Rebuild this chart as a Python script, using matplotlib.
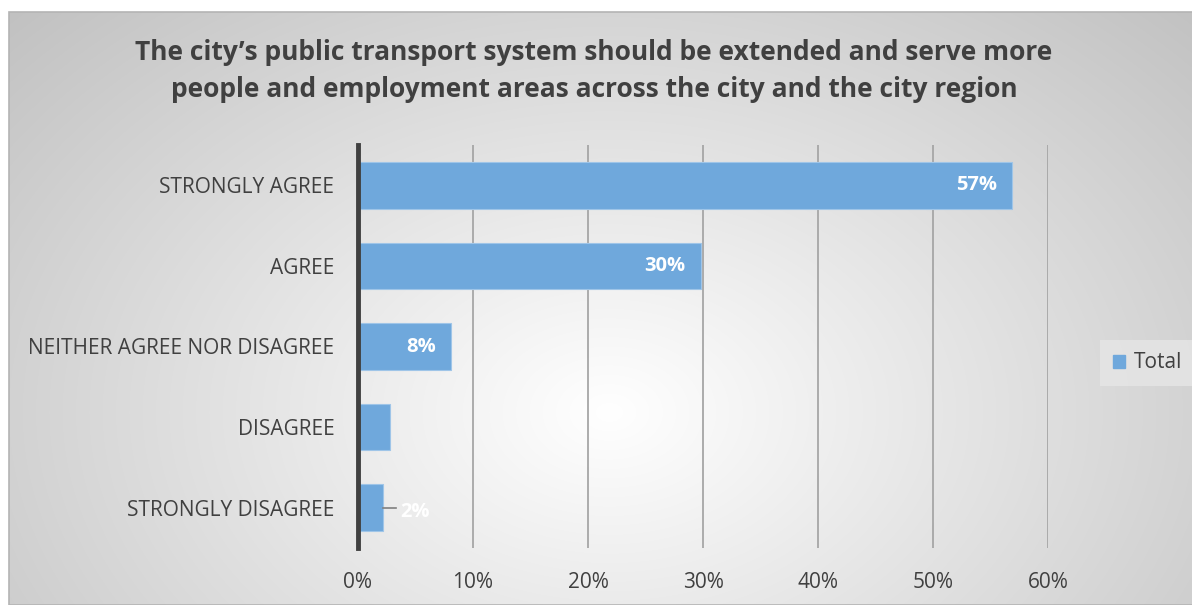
import numpy as np
import matplotlib.pyplot as plt
from matplotlib.patches import Rectangle

categories = ["STRONGLY AGREE", "AGREE", "NEITHER AGREE NOR DISAGREE", "DISAGREE", "STRONGLY DISAGREE"]
values = [56.9, 29.8, 8.1, 2.8, 2.2]
labels = ["57%", "30%", "8%", "", "2%"]
xticks = [0, 10, 20, 30, 40, 50, 60]

title = ("The city\u2019s public transport system should be extended and serve more\n"
         "people and employment areas across the city and the city region")

W, H = 1192, 605
fig = plt.figure(figsize=(W / 100, H / 100), dpi=100)
fig.patch.set_facecolor("white")

# radial gradient background for the chart frame
bg = fig.add_axes([9 / W, 0, 1 - 9 / W, 1 - 12 / H], zorder=0)
yy, xx = np.mgrid[0:593, 0:1183]
cx, cy = 600, 400
r = np.sqrt(((xx - cx) / 680.0) ** 2 + ((yy - cy) / 480.0) ** 2)
shade = 1.0 - 0.24 * np.clip(r, 0, 1.2) / 1.2
img = np.dstack([shade, shade, shade])
bg.imshow(img, aspect="auto", interpolation="bilinear")
bg.set_axis_off()
fig.add_artist(Rectangle((9 / W, 0), 1, 1 - 12 / H, transform=fig.transFigure,
                         fill=False, edgecolor="#b4b4b4", linewidth=1.2, zorder=1))

ax = fig.add_axes([358 / W, 1 - 548 / H, 690 / W, 403 / H], zorder=2)
ax.patch.set_alpha(0)

y = np.arange(len(categories))
ax.barh(y, values, height=0.58, color="#6fa8dc", edgecolor="#9fc5e8", linewidth=0.8, zorder=3)
ax.set_ylim(len(categories) - 0.5, -0.5)
ax.set_xlim(0, 60)
ax.set_xticks(xticks)
ax.set_xticklabels([f"{t}%" for t in xticks])
ax.set_yticks(y)
ax.set_yticklabels(categories)
ax.grid(axis="x", color="#a6a6a6", linewidth=1.3, zorder=1)
ax.set_axisbelow(True)
for s in ["top", "right", "bottom"]:
    ax.spines[s].set_visible(False)
ax.spines["left"].set_color("#404040")
ax.spines["left"].set_linewidth(3.5)
ax.spines["left"].set_zorder(4)
ax.tick_params(length=0, labelsize=15, labelcolor="#404040", pad=17)
ax.tick_params(axis="x", pad=17)
for t in ax.get_xticklabels() + ax.get_yticklabels():
    t.set_fontfamily("Open Sans")

for i, (v, lab) in enumerate(zip(values, labels)):
    if not lab:
        continue
    if v > 5:
        ax.text(v - 1.3, i, lab, ha="right", va="center", color="white",
                fontsize=14.5, fontweight="bold", family="Open Sans", zorder=5)
    else:
        ax.plot([v, v + 1.1], [i, i], color="#808080", linewidth=1.2, zorder=5)
        ax.text(v + 1.5, i + 0.05, lab, ha="left", va="center", color="white",
                fontsize=14.5, fontweight="bold", family="Open Sans", zorder=5)

fig.text(594 / W, 1 - 71 / H, title, ha="center", va="center", fontsize=19.0,
         fontweight="bold", color="#404040", family="Open Sans", linespacing=1.45)

leg = ax.legend([Rectangle((0, 0), 1, 1, color="#6fa8dc")], ["Total"],
                loc="center left", bbox_to_anchor=(1090 / W, 1 - 363 / H),
                bbox_transform=fig.transFigure, frameon=True, fontsize=15,
                handlelength=0.6, handleheight=0.6, handletextpad=0.4,
                borderpad=0.6, fancybox=False)
leg.get_frame().set_facecolor("#e6e6e6")
leg.get_frame().set_edgecolor("none")
for t in leg.get_texts():
    t.set_color("#404040")
    t.set_fontfamily("Open Sans")

fig.savefig("out.png", dpi=100)
